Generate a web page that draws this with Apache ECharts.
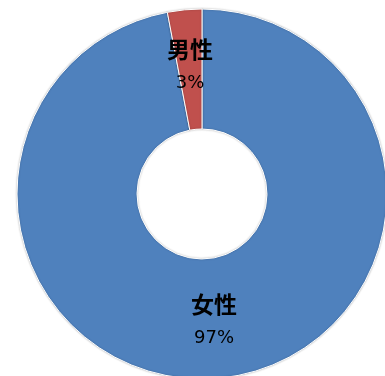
<!DOCTYPE html>
<html>
<head>
<meta charset="utf-8">
<script src="https://cdn.jsdelivr.net/npm/echarts@6/dist/echarts.min.js"></script>
<style>html,body{margin:0;padding:0;background:#fff;}#c{width:385px;height:376px;}</style>
</head>
<body>
<div id="c"></div>
<script>
const categories = ['女性', '男性'];
const values = [97, 3];
const colors = ['#4F81BD', '#C0504D'];

const chart = echarts.init(document.getElementById('c'), null, {renderer: 'canvas'});
chart.setOption({
  animation: false,
  backgroundColor: '#ffffff',
  series: [{
    type: 'pie',
    center: [202, 194],
    radius: [65, 185],
    startAngle: 90,
    clockwise: true,
    avoidLabelOverlap: false,
    data: categories.map((c, i) => ({name: c, value: values[i], itemStyle: {color: colors[i]}})),
    itemStyle: {
      borderColor: '#ffffff',
      borderWidth: 1,
      shadowColor: 'rgba(0,0,0,0.25)',
      shadowBlur: 2
    },
    label: {
      show: true,
      position: 'inside',
      formatter: p => '{n|' + p.name + '}\n{p|' + Math.round(p.percent) + '%}',
      rich: {
        n: {fontFamily: '"Noto Sans CJK JP", sans-serif', fontSize: 23, fontWeight: 'bold', color: '#000', lineHeight: 34, align: 'center'},
        p: {fontFamily: '"DejaVu Sans", sans-serif', fontSize: 18, color: '#000', lineHeight: 34, align: 'center'}
      }
    },
    labelLine: {show: false},
    emphasis: {disabled: true}
  }]
});
</script>
</body>
</html>
